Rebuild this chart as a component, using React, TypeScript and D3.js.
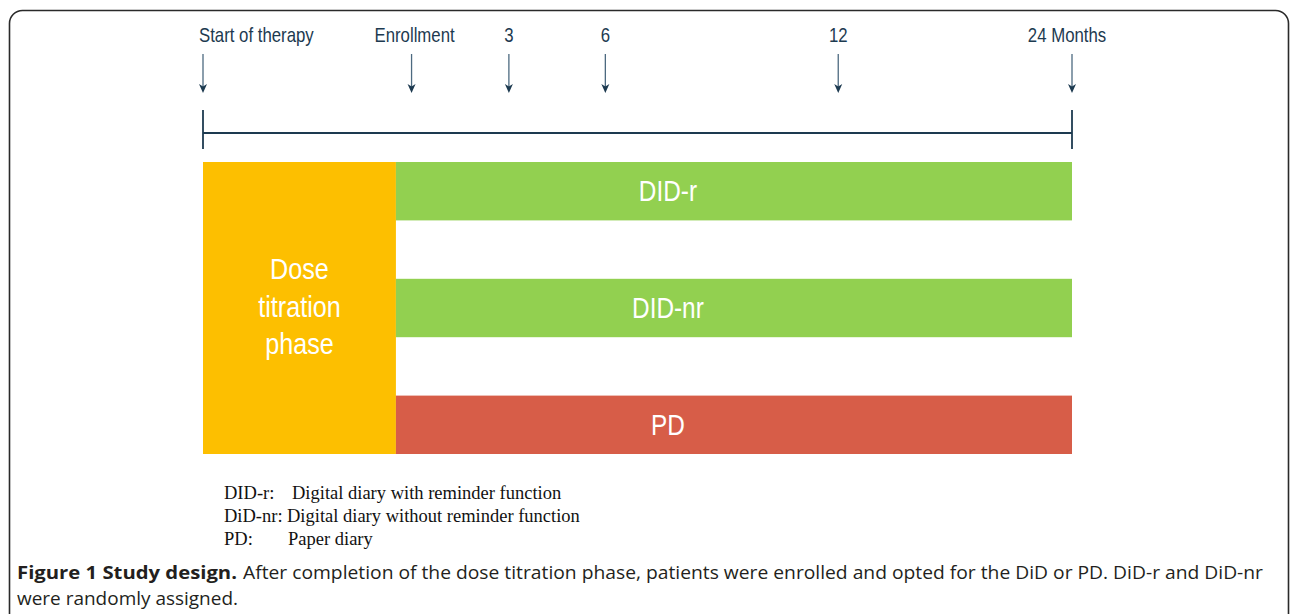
import * as d3 from 'd3'

// timeline events, position as fraction of the study span (start of therapy -> 24 months)
const eventLabels = ['Start of therapy', 'Enrollment', '3', '6', '12', '24 Months']
const eventPos = [0, 0.24, 0.352, 0.463, 0.731, 1]
const labelShift = [-4, 3, 0, 0, 0, -5]

// study arms after randomisation
const arms = ['DID-r', 'DID-nr', 'PD']
const armColors = ['#92d050', '#92d050', '#d75d48']
const armStart = 0.222
const armLabelPos = 0.535

const phaseLines = ['Dose', 'titration', 'phase']
const phaseColor = '#fdbf00'

const legendKeys = ['DID-r:', 'DiD-nr:', 'PD:']
const legendTexts = ['Digital diary with reminder function', 'Digital diary without reminder function', 'Paper diary']
const legendTextX = [292, 287, 288]

const captionBold = 'Figure 1 Study design.'
const captionRest = 'After completion of the dose titration phase, patients were enrolled and opted for the DiD or PD. DiD-r and DiD-nr'
const captionLine2 = 'were randomly assigned.'

const W = 1290
const H = 614
const navy = '#1d3a50'
const sans = '"Liberation Sans", Arial, sans-serif'

// arial-narrow look: squeeze regular sans horizontally
function Narrow({ x, y, anchor = 'middle', size, fill, children }: {
  x: number; y: number; anchor?: string; size: number; fill: string; children: React.ReactNode
}) {
  return (
    <g transform={`translate(${x},${y}) scale(0.84,1)`}>
      <text textAnchor={anchor} fontFamily={sans} fontSize={size} fill={fill}>{children}</text>
    </g>
  )
}

export default function App() {
  const x = d3.scaleLinear().domain([0, 1]).range([203, 1072])
  const y = d3.scaleBand<string>().domain(arms).range([162, 454]).paddingInner(0.5)
  const lineY = 133

  return (
    <svg width={W} height={H} style={{ position: 'absolute', left: 0, top: 0, background: '#fff' }}>
      {/* frame */}
      <rect x={9.5} y={10.5} width={1279} height={720} rx={13} fill="none" stroke="#2a2a2a" strokeWidth={1.6} />

      {/* event labels + arrows */}
      {eventLabels.map((lab, i) => {
        const cx = x(eventPos[i])
        return (
          <g key={lab}>
            <Narrow x={cx + labelShift[i]} y={42} anchor={i === 0 ? 'start' : 'middle'} size={20} fill={navy}>
              {lab}
            </Narrow>
            <line x1={cx} x2={cx} y1={54} y2={88} stroke="#4d6a80" strokeWidth={1.3} />
            <path d={`M${cx - 4},84 L${cx},93 L${cx + 4},84 L${cx},86.5 Z`} fill={navy} />
          </g>
        )
      })}

      {/* timeline */}
      <line x1={x(0)} x2={x(1)} y1={lineY} y2={lineY} stroke={navy} strokeWidth={1.8} />
      <line x1={x(0)} x2={x(0)} y1={110} y2={149} stroke={navy} strokeWidth={1.8} />
      <line x1={x(1)} x2={x(1)} y1={110} y2={149} stroke={navy} strokeWidth={1.8} />

      {/* dose titration phase */}
      <rect
        x={x(0)}
        y={y.range()[0]}
        width={x(armStart) - x(0)}
        height={y.range()[1] - y.range()[0]}
        fill={phaseColor}
      />
      {phaseLines.map((l, i) => (
        <Narrow key={l} x={(x(0) + x(armStart)) / 2} y={279 + i * 37.5} size={30} fill="#fff">
          {l}
        </Narrow>
      ))}

      {/* arms */}
      {arms.map((a, i) => (
        <g key={a}>
          <rect x={x(armStart)} y={y(a)} width={x(1) - x(armStart)} height={y.bandwidth()} fill={armColors[i]} />
          <Narrow x={x(armLabelPos)} y={(y(a) as number) + y.bandwidth() / 2 + 10} size={29} fill="#fff">
            {a}
          </Narrow>
        </g>
      ))}

      {/* abbreviations */}
      {legendKeys.map((k, i) => (
        <g key={k} fontFamily='"Liberation Serif", "Times New Roman", serif' fontSize={18.5} fill="#111">
          <text x={224} y={499 + i * 23}>{k}</text>
          <text x={legendTextX[i]} y={499 + i * 23}>{legendTexts[i]}</text>
        </g>
      ))}

      {/* caption */}
      <g fontFamily='"Open Sans", "Noto Sans", sans-serif' fontSize={17.5} fill="#231f20">
        <text x={17} y={579} fontWeight="bold" textLength={220} lengthAdjust="spacingAndGlyphs">
          {captionBold}
        </text>
        <text x={243} y={579} textLength={1020} lengthAdjust="spacingAndGlyphs">
          {captionRest}
        </text>
        <text x={17} y={605} textLength={221} lengthAdjust="spacingAndGlyphs">
          {captionLine2}
        </text>
      </g>
    </svg>
  )
}
